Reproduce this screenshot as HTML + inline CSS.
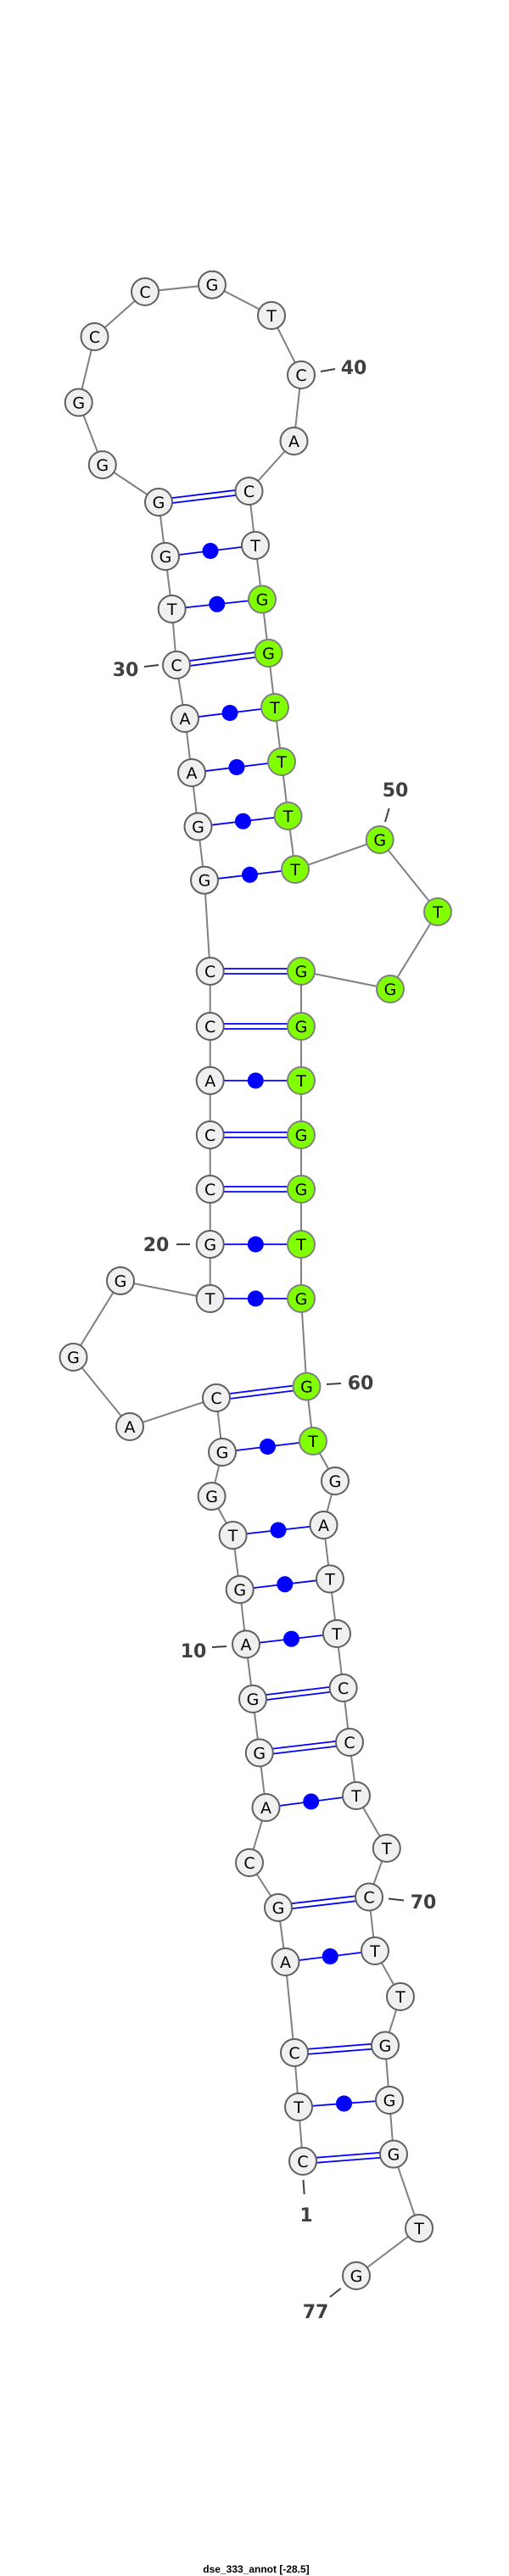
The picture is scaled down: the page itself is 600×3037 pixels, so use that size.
<!DOCTYPE html>
<html><head><meta charset="utf-8"><style>
html,body{margin:0;padding:0;background:#fff;}
svg{display:block;}
.b line{stroke:#808080;stroke-width:2;}
.p line{stroke:#0000ff;stroke-width:1.8;}
.d circle{fill:#0000ff;}
.n circle{fill:#f0f0f0;stroke:#606060;stroke-width:2;}
.n circle.g{fill:#7fff00;stroke:#808080;}
.n text{font-family:"DejaVu Sans","Liberation Sans",sans-serif;font-size:19px;text-anchor:middle;fill:#000;}
.l text{font-family:"DejaVu Sans","Liberation Sans",sans-serif;font-size:22px;font-weight:bold;fill:#404040;text-anchor:middle;}
.l line{stroke:#404040;stroke-width:2;}
</style></head><body>
<svg width="600" height="3037" viewBox="0 0 600 3037" xmlns="http://www.w3.org/2000/svg">
<g class="b">
<polyline fill="none" stroke="#808080" stroke-width="2" points="357,2548 352,2484 347,2420 336.5,2313 328,2249 294,2196 313.5,2131 305.8,2066.5 298,2003 290,1938.5 282.7,1874 274.6,1810 249.6,1764 262,1712 255,1648 153,1682 86.5,1600 142,1510 247.7,1531 247.7,1467 247.7,1402 247.7,1338 247.7,1274 247.7,1210 247.7,1145 241,1037.7 233.5,974.5 226,911 218,847 208,784 202.7,718 195,656 187,592 120.8,548 92.7,474.5 111.5,397 171,344 250,335.7 320,372 355,442 346.5,520 293.5,579 301,643 309,706.6 316.5,770 324,834 332,898 339.6,962 348,1025 447.7,990 516,1075 460,1166 355,1145 355,1210 355,1274 355,1338 355,1402 355,1467 355,1531 361.5,1634.6 369,1699 395,1746 381.5,1798 389,1861.5 397,1926 404.6,1990 412,2054 420,2117 455.8,2179 435,2236.5 442,2300 472,2354 454,2411.5 459,2476 464,2539.6 494,2627 420,2683"/>
</g>
<g class="p">
<!-- double (GC) pairs -->
<line x1="357" y1="2545" x2="464" y2="2536.6"/><line x1="357" y1="2551" x2="464" y2="2542.6"/>
<line x1="347" y1="2417" x2="454" y2="2408.5"/><line x1="347" y1="2423" x2="454" y2="2414.5"/>
<line x1="328" y1="2246" x2="435" y2="2233.5"/><line x1="328" y1="2252" x2="435" y2="2239.5"/>
<line x1="305.8" y1="2063.5" x2="412" y2="2051"/><line x1="305.8" y1="2069.5" x2="412" y2="2057"/>
<line x1="298" y1="2000" x2="404.6" y2="1987"/><line x1="298" y1="2006" x2="404.6" y2="1993"/>
<line x1="255" y1="1645" x2="361.5" y2="1631.6"/><line x1="255" y1="1651" x2="361.5" y2="1637.6"/>
<line x1="247.7" y1="1399" x2="355" y2="1399"/><line x1="247.7" y1="1405" x2="355" y2="1405"/>
<line x1="247.7" y1="1335" x2="355" y2="1335"/><line x1="247.7" y1="1341" x2="355" y2="1341"/>
<line x1="247.7" y1="1207" x2="355" y2="1207"/><line x1="247.7" y1="1213" x2="355" y2="1213"/>
<line x1="247.7" y1="1142" x2="355" y2="1142"/><line x1="247.7" y1="1148" x2="355" y2="1148"/>
<line x1="208" y1="781" x2="316.5" y2="767"/><line x1="208" y1="787" x2="316.5" y2="773"/>
<line x1="187" y1="589" x2="293.5" y2="576"/><line x1="187" y1="595" x2="293.5" y2="582"/>
<!-- single (dot) pairs -->
<line x1="352" y1="2484" x2="459" y2="2476"/>
<line x1="336.5" y1="2313" x2="442" y2="2300"/>
<line x1="313.5" y1="2131" x2="420" y2="2117"/>
<line x1="290" y1="1938.5" x2="397" y2="1926"/>
<line x1="282.7" y1="1874" x2="389" y2="1861.5"/>
<line x1="274.6" y1="1810" x2="381.5" y2="1798"/>
<line x1="262" y1="1712" x2="369" y2="1699"/>
<line x1="247.7" y1="1531" x2="355" y2="1531"/>
<line x1="247.7" y1="1467" x2="355" y2="1467"/>
<line x1="247.7" y1="1274" x2="355" y2="1274"/>
<line x1="241" y1="1037.7" x2="348" y2="1025"/>
<line x1="233.5" y1="974.5" x2="339.6" y2="962"/>
<line x1="226" y1="911" x2="332" y2="898"/>
<line x1="218" y1="847" x2="324" y2="834"/>
<line x1="202.7" y1="718" x2="309" y2="706.6"/>
<line x1="195" y1="656" x2="301" y2="643"/>
</g>
<g class="d">
<circle cx="405.5" cy="2480" r="9.5"/>
<circle cx="389.2" cy="2306.5" r="9.5"/>
<circle cx="366.7" cy="2124" r="9.5"/>
<circle cx="343.5" cy="1932.2" r="9.5"/>
<circle cx="335.8" cy="1867.8" r="9.5"/>
<circle cx="328" cy="1804" r="9.5"/>
<circle cx="315.5" cy="1705.5" r="9.5"/>
<circle cx="301.3" cy="1531" r="9.5"/>
<circle cx="301.3" cy="1467" r="9.5"/>
<circle cx="301.3" cy="1274" r="9.5"/>
<circle cx="294.5" cy="1031.3" r="9.5"/>
<circle cx="286.5" cy="968.2" r="9.5"/>
<circle cx="279" cy="904.5" r="9.5"/>
<circle cx="271" cy="840.5" r="9.5"/>
<circle cx="255.8" cy="712.3" r="9.5"/>
<circle cx="248" cy="649.5" r="9.5"/>
</g>
<g class="n">
<circle cx="357" cy="2548" r="16"/><text x="357" y="2555">C</text>
<circle cx="352" cy="2484" r="16"/><text x="352" y="2491">T</text>
<circle cx="347" cy="2420" r="16"/><text x="347" y="2427">C</text>
<circle cx="336.5" cy="2313" r="16"/><text x="336.5" y="2320">A</text>
<circle cx="328" cy="2249" r="16"/><text x="328" y="2256">G</text>
<circle cx="294" cy="2196" r="16"/><text x="294" y="2203">C</text>
<circle cx="313.5" cy="2131" r="16"/><text x="313.5" y="2138">A</text>
<circle cx="305.8" cy="2066.5" r="16"/><text x="305.8" y="2073.5">G</text>
<circle cx="298" cy="2003" r="16"/><text x="298" y="2010">G</text>
<circle cx="290" cy="1938.5" r="16"/><text x="290" y="1945.5">A</text>
<circle cx="282.7" cy="1874" r="16"/><text x="282.7" y="1881">G</text>
<circle cx="274.6" cy="1810" r="16"/><text x="274.6" y="1817">T</text>
<circle cx="249.6" cy="1764" r="16"/><text x="249.6" y="1771">G</text>
<circle cx="262" cy="1712" r="16"/><text x="262" y="1719">G</text>
<circle cx="255" cy="1648" r="16"/><text x="255" y="1655">C</text>
<circle cx="153" cy="1682" r="16"/><text x="153" y="1689">A</text>
<circle cx="86.5" cy="1600" r="16"/><text x="86.5" y="1607">G</text>
<circle cx="142" cy="1510" r="16"/><text x="142" y="1517">G</text>
<circle cx="247.7" cy="1531" r="16"/><text x="247.7" y="1538">T</text>
<circle cx="247.7" cy="1467" r="16"/><text x="247.7" y="1474">G</text>
<circle cx="247.7" cy="1402" r="16"/><text x="247.7" y="1409">C</text>
<circle cx="247.7" cy="1338" r="16"/><text x="247.7" y="1345">C</text>
<circle cx="247.7" cy="1274" r="16"/><text x="247.7" y="1281">A</text>
<circle cx="247.7" cy="1210" r="16"/><text x="247.7" y="1217">C</text>
<circle cx="247.7" cy="1145" r="16"/><text x="247.7" y="1152">C</text>
<circle cx="241" cy="1037.7" r="16"/><text x="241" y="1044.7">G</text>
<circle cx="233.5" cy="974.5" r="16"/><text x="233.5" y="981.5">G</text>
<circle cx="226" cy="911" r="16"/><text x="226" y="918">A</text>
<circle cx="218" cy="847" r="16"/><text x="218" y="854">A</text>
<circle cx="208" cy="784" r="16"/><text x="208" y="791">C</text>
<circle cx="202.7" cy="718" r="16"/><text x="202.7" y="725">T</text>
<circle cx="195" cy="656" r="16"/><text x="195" y="663">G</text>
<circle cx="187" cy="592" r="16"/><text x="187" y="599">G</text>
<circle cx="120.8" cy="548" r="16"/><text x="120.8" y="555">G</text>
<circle cx="92.7" cy="474.5" r="16"/><text x="92.7" y="481.5">G</text>
<circle cx="111.5" cy="397" r="16"/><text x="111.5" y="404">C</text>
<circle cx="171" cy="344" r="16"/><text x="171" y="351">C</text>
<circle cx="250" cy="335.7" r="16"/><text x="250" y="342.7">G</text>
<circle cx="320" cy="372" r="16"/><text x="320" y="379">T</text>
<circle cx="355" cy="442" r="16"/><text x="355" y="449">C</text>
<circle cx="346.5" cy="520" r="16"/><text x="346.5" y="527">A</text>
<circle cx="293.5" cy="579" r="16"/><text x="293.5" y="586">C</text>
<circle cx="301" cy="643" r="16"/><text x="301" y="650">T</text>
<circle class="g" cx="309" cy="706.6" r="16"/><text x="309" y="713.6">G</text>
<circle class="g" cx="316.5" cy="770" r="16"/><text x="316.5" y="777">G</text>
<circle class="g" cx="324" cy="834" r="16"/><text x="324" y="841">T</text>
<circle class="g" cx="332" cy="898" r="16"/><text x="332" y="905">T</text>
<circle class="g" cx="339.6" cy="962" r="16"/><text x="339.6" y="969">T</text>
<circle class="g" cx="348" cy="1025" r="16"/><text x="348" y="1032">T</text>
<circle class="g" cx="447.7" cy="990" r="16"/><text x="447.7" y="997">G</text>
<circle class="g" cx="516" cy="1075" r="16"/><text x="516" y="1082">T</text>
<circle class="g" cx="460" cy="1166" r="16"/><text x="460" y="1173">G</text>
<circle class="g" cx="355" cy="1145" r="16"/><text x="355" y="1152">G</text>
<circle class="g" cx="355" cy="1210" r="16"/><text x="355" y="1217">G</text>
<circle class="g" cx="355" cy="1274" r="16"/><text x="355" y="1281">T</text>
<circle class="g" cx="355" cy="1338" r="16"/><text x="355" y="1345">G</text>
<circle class="g" cx="355" cy="1402" r="16"/><text x="355" y="1409">G</text>
<circle class="g" cx="355" cy="1467" r="16"/><text x="355" y="1474">T</text>
<circle class="g" cx="355" cy="1531" r="16"/><text x="355" y="1538">G</text>
<circle class="g" cx="361.5" cy="1634.6" r="16"/><text x="361.5" y="1641.6">G</text>
<circle class="g" cx="369" cy="1699" r="16"/><text x="369" y="1706">T</text>
<circle cx="395" cy="1746" r="16"/><text x="395" y="1753">G</text>
<circle cx="381.5" cy="1798" r="16"/><text x="381.5" y="1805">A</text>
<circle cx="389" cy="1861.5" r="16"/><text x="389" y="1868.5">T</text>
<circle cx="397" cy="1926" r="16"/><text x="397" y="1933">T</text>
<circle cx="404.6" cy="1990" r="16"/><text x="404.6" y="1997">C</text>
<circle cx="412" cy="2054" r="16"/><text x="412" y="2061">C</text>
<circle cx="420" cy="2117" r="16"/><text x="420" y="2124">T</text>
<circle cx="455.8" cy="2179" r="16"/><text x="455.8" y="2186">T</text>
<circle cx="435" cy="2236.5" r="16"/><text x="435" y="2243.5">C</text>
<circle cx="442" cy="2300" r="16"/><text x="442" y="2307">T</text>
<circle cx="472" cy="2354" r="16"/><text x="472" y="2361">T</text>
<circle cx="454" cy="2411.5" r="16"/><text x="454" y="2418.5">G</text>
<circle cx="459" cy="2476" r="16"/><text x="459" y="2483">G</text>
<circle cx="464" cy="2539.6" r="16"/><text x="464" y="2546.6">G</text>
<circle cx="494" cy="2627" r="16"/><text x="494" y="2634">T</text>
<circle cx="420" cy="2683" r="16"/><text x="420" y="2690">G</text>
</g>
<g class="l">
<line x1="378" y1="438" x2="395" y2="435"/><text x="417" y="441">40</text>
<line x1="170" y1="786" x2="187" y2="784"/><text x="148" y="797">30</text>
<line x1="458.7" y1="953" x2="454" y2="969"/><text x="466" y="939">50</text>
<line x1="208" y1="1467" x2="224" y2="1467"/><text x="184" y="1475">20</text>
<line x1="385" y1="1632" x2="402" y2="1631"/><text x="425" y="1638">60</text>
<line x1="250" y1="1942" x2="267" y2="1941"/><text x="228" y="1954">10</text>
<line x1="458" y1="2238.5" x2="476" y2="2240.5"/><text x="499" y="2250">70</text>
<line x1="357.5" y1="2570" x2="358.7" y2="2587"/><text x="361" y="2619">1</text>
<line x1="389" y1="2708" x2="401.7" y2="2698"/><text x="372" y="2733">77</text>
</g>
<text x="302" y="3033" font-family="'Liberation Sans Narrow','Liberation Sans',sans-serif" font-size="12" font-weight="bold" text-anchor="middle" fill="#000">dse_333_annot [-28.5]</text>
</svg>
</body></html>
